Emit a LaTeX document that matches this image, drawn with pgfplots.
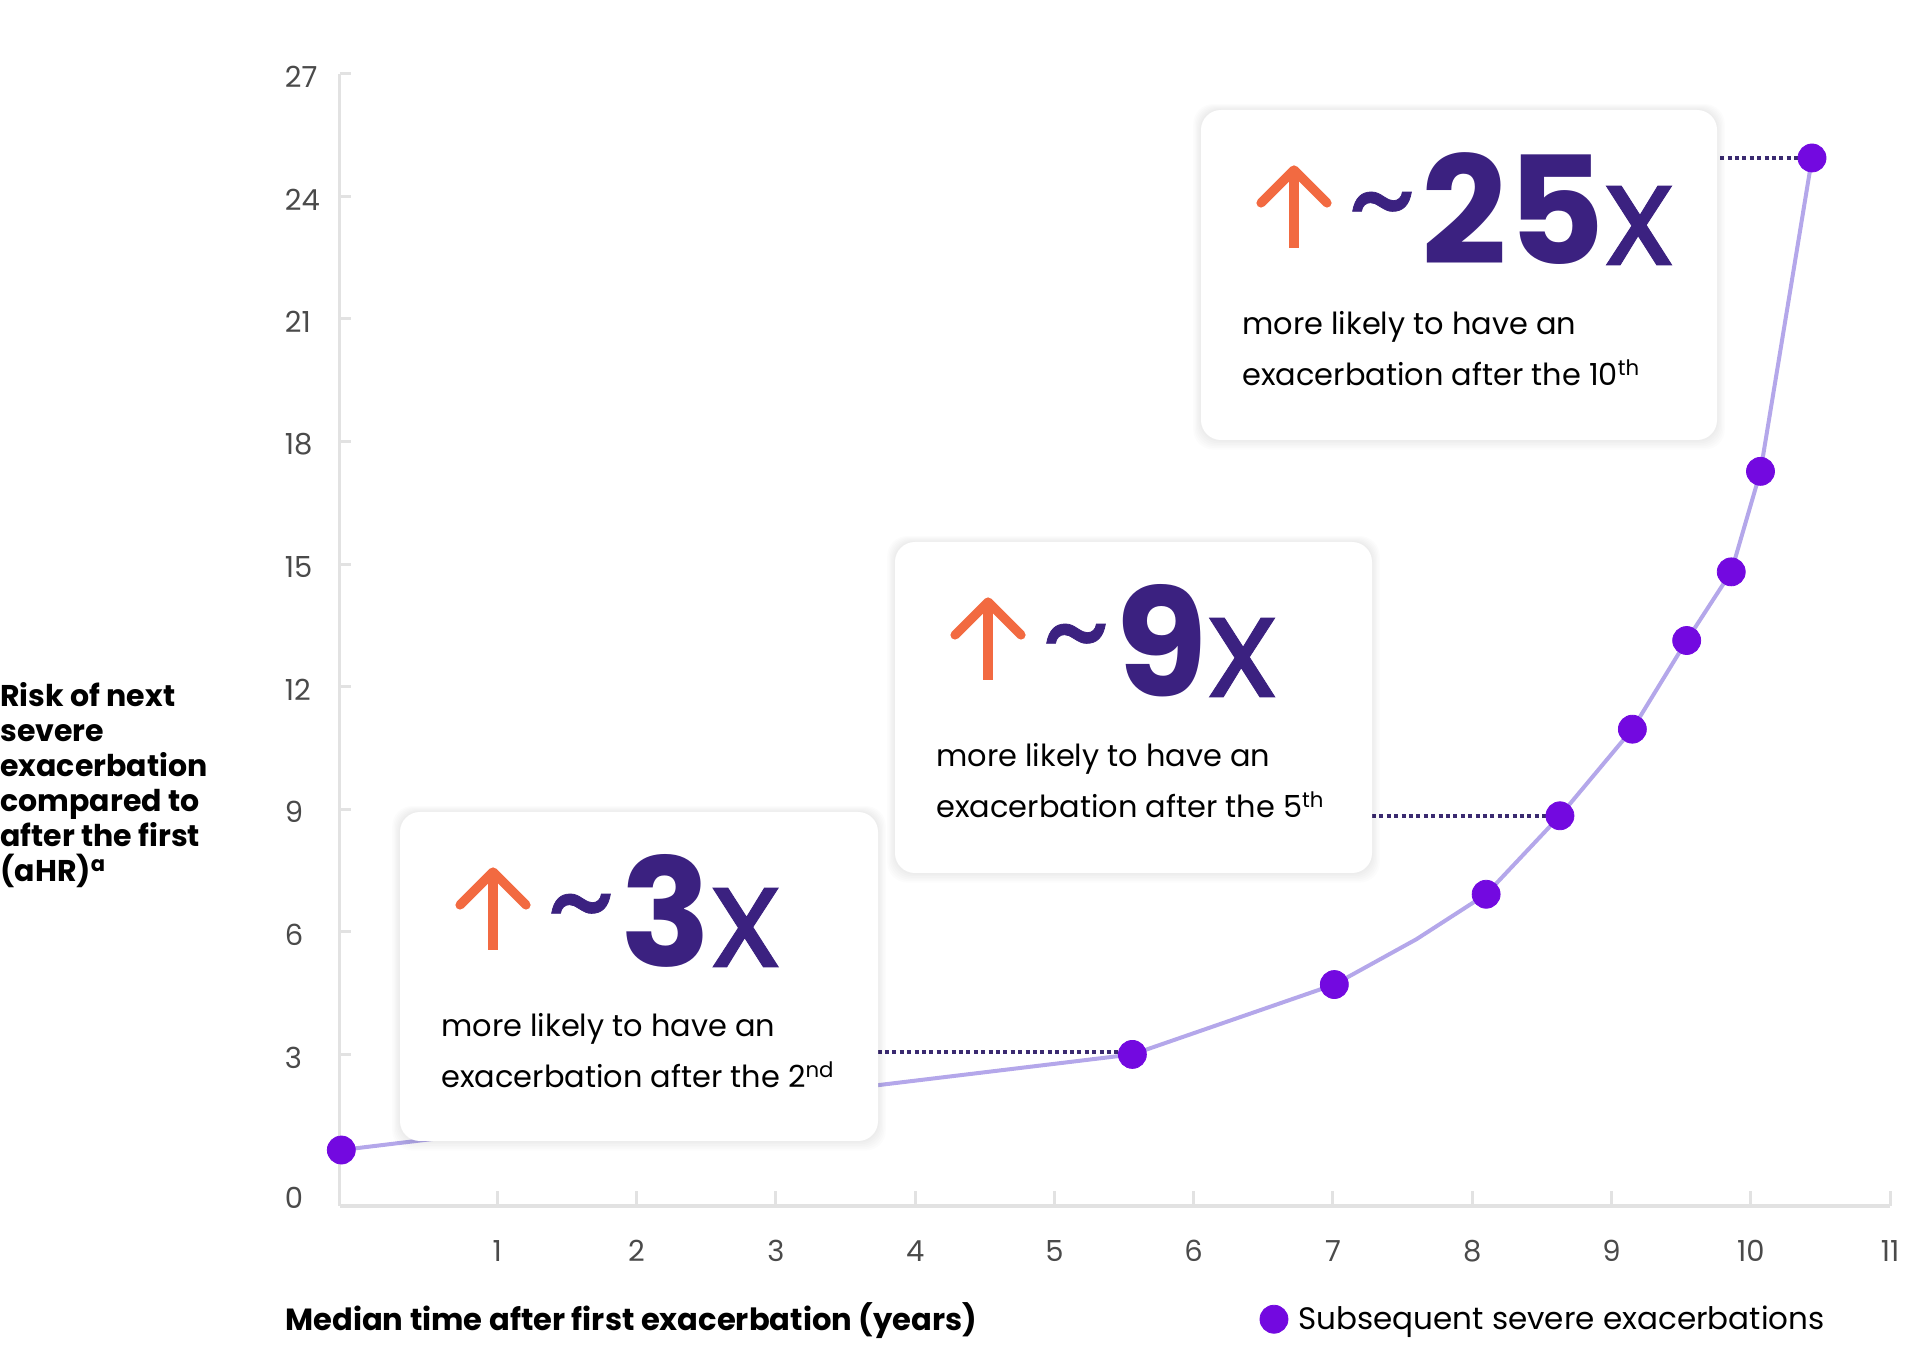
\documentclass[border=0pt]{standalone}
\usepackage{fontspec}
\setmainfont{Poppins}
\newfontfamily\medfont{Poppins}[FakeBold=0.6]
\usepackage{pgfplots}
\pgfplotsset{compat=1.18}

\definecolor{numc}{HTML}{3B2180}
\definecolor{arrc}{HTML}{F26A41}
\definecolor{mcol}{HTML}{7309E0}
\definecolor{linec}{HTML}{B4A7EA}
\definecolor{dotc}{HTML}{3A2A70}
\definecolor{axc}{HTML}{E2E2E2}
\definecolor{tickc}{HTML}{4A4A4A}

% curve (the extra vertex near x=7.6 is the bend of the line, no marker there)
\pgfplotstableread{
x y
-0.12 0.66
5.56 3.00
7.01 4.71
7.60 5.82
8.10 6.92
8.63 8.84
9.15 10.96
9.54 13.13
9.86 14.81
10.07 17.27
10.44 24.94
}\curve
\pgfplotstableread{
x y
-0.12 0.66
5.56 3.00
7.01 4.71
8.10 6.92
8.63 8.84
9.15 10.96
9.54 13.13
9.86 14.81
10.07 17.27
10.44 24.94
}\points

% info card: left, top, width, height (reference pixels), number, ordinal, suffix
\newcommand{\infobox}[7]{%
  \foreach \i in {1,...,6}
    \fill[black, opacity=0.012, rounded corners=10pt]
      (#1-\i*1.3, #2-\i*1.0) rectangle (#1+#3+\i*1.3, #2+#4+\i*1.6);
  \fill[white, rounded corners=10pt] (#1,#2) rectangle (#1+#3,#2+#4);
  \draw[arrc, line width=4.6pt] (#1+93,#2+138) -- (#1+93,#2+64);
  \draw[arrc, line width=4.6pt, line cap=round, line join=round]
    (#1+60,#2+93) -- (#1+93,#2+60) -- (#1+126,#2+93);
  \node[inner sep=0pt, text=numc, font=\fontsize{66pt}{66pt}\selectfont\medfont]
    at (#1+181,#2+108) {\char"7E};
  \node[anchor=base west, inner sep=0pt, text=numc] at (#1+220,#2+155)
    {{\fontsize{75pt}{75pt}\selectfont\bfseries #5}{\fontsize{72pt}{72pt}\selectfont\medfont x}};
  \node[anchor=base west, inner sep=0pt, font=\fontsize{15.2pt}{19pt}\selectfont]
    at (#1+41,#2+225) {more likely to have an};
  \node[anchor=base west, inner sep=0pt, font=\fontsize{15.2pt}{19pt}\selectfont]
    at (#1+41,#2+276) {exacerbation after the #6\textsuperscript{#7}};
}

\begin{document}
\begin{tikzpicture}
\begin{axis}[
  at={(169.75pt,82pt)}, anchor=south west,
  scale only axis, width=775.25pt, height=566.1pt,
  xmin=-0.133, xmax=11, ymin=-0.71, ymax=27,
  axis x line=bottom, axis y line=left,
  axis line style={-, draw=axc, line width=1.7pt},
  xtick={1,...,11}, ytick={3,6,...,27},
  extra y ticks={-0.44}, extra y tick labels={0},
  extra y tick style={tick style={draw=none}},
  tick align=inside,
  tick style={draw=axc, line width=1.5pt},
  major tick length=7.5pt,
  ytick style={/pgfplots/major tick length=5.5pt},
  /pgf/number format/assume math mode=true,
  ticklabel style={font=\fontsize{14.5pt}{17pt}\selectfont, text=tickc, inner sep=0pt},
  xticklabel style={anchor=north, yshift=-17pt},
  yticklabel style={anchor=west, xshift=-27.5pt, yshift=-1.5pt},
  clip=false,
  legend style={at={(axis description cs:0.5934,-0.1)}, anchor=west,
    draw=none, fill=none, inner sep=0pt, outer sep=0pt,
    font=\fontsize{15.5pt}{18pt}\selectfont,
    /tikz/every odd column/.append style={column sep=3pt}},
  legend cell align=left,
  legend image code/.code={\fill[mcol] (7pt,0pt) circle (7pt);},
]
\addplot[linec, line width=2pt, forget plot] table {\curve};
\addplot[dotc, line width=2pt, dash pattern=on 2pt off 1.7pt, forget plot]
  coordinates {(3.73,3.07) (5.50,3.07)};
\addplot[dotc, line width=2pt, dash pattern=on 2pt off 1.7pt, forget plot]
  coordinates {(7.28,8.84) (8.58,8.84)};
\addplot[dotc, line width=2pt, dash pattern=on 2pt off 1.7pt, forget plot]
  coordinates {(9.78,24.93) (10.40,24.93)};
\addplot[only marks, mark=*, mark size=7pt, mcol, mark options={draw=none, fill=mcol}]
  table {\points};
\addlegendentry{Subsequent severe exacerbations}
\end{axis}

\begin{scope}[yshift=685pt, x=0.5pt, y=-0.5pt]
  \infobox{400}{812}{478}{329}{3}{2}{nd}
  \infobox{895}{542}{477}{331}{9}{5}{th}
  \infobox{1201}{110}{516}{330}{25}{10}{th}

  \foreach \t [count=\k from 0] in {Risk of next, severe, exacerbation,
      compared to, after the first, (aHR)\textsuperscript{a}}
    \node[anchor=base west, inner sep=0pt, font=\fontsize{15pt}{17pt}\selectfont\bfseries]
      at (0, 706.7+35*\k) {\t};

  \node[anchor=base west, inner sep=0pt, font=\fontsize{15.3pt}{18pt}\selectfont\bfseries]
    at (285,1330) {Median time after first exacerbation (years)};
\end{scope}

\pgfresetboundingbox
\path[use as bounding box] (0,0) rectangle (960pt,685pt);
\end{tikzpicture}
\end{document}
